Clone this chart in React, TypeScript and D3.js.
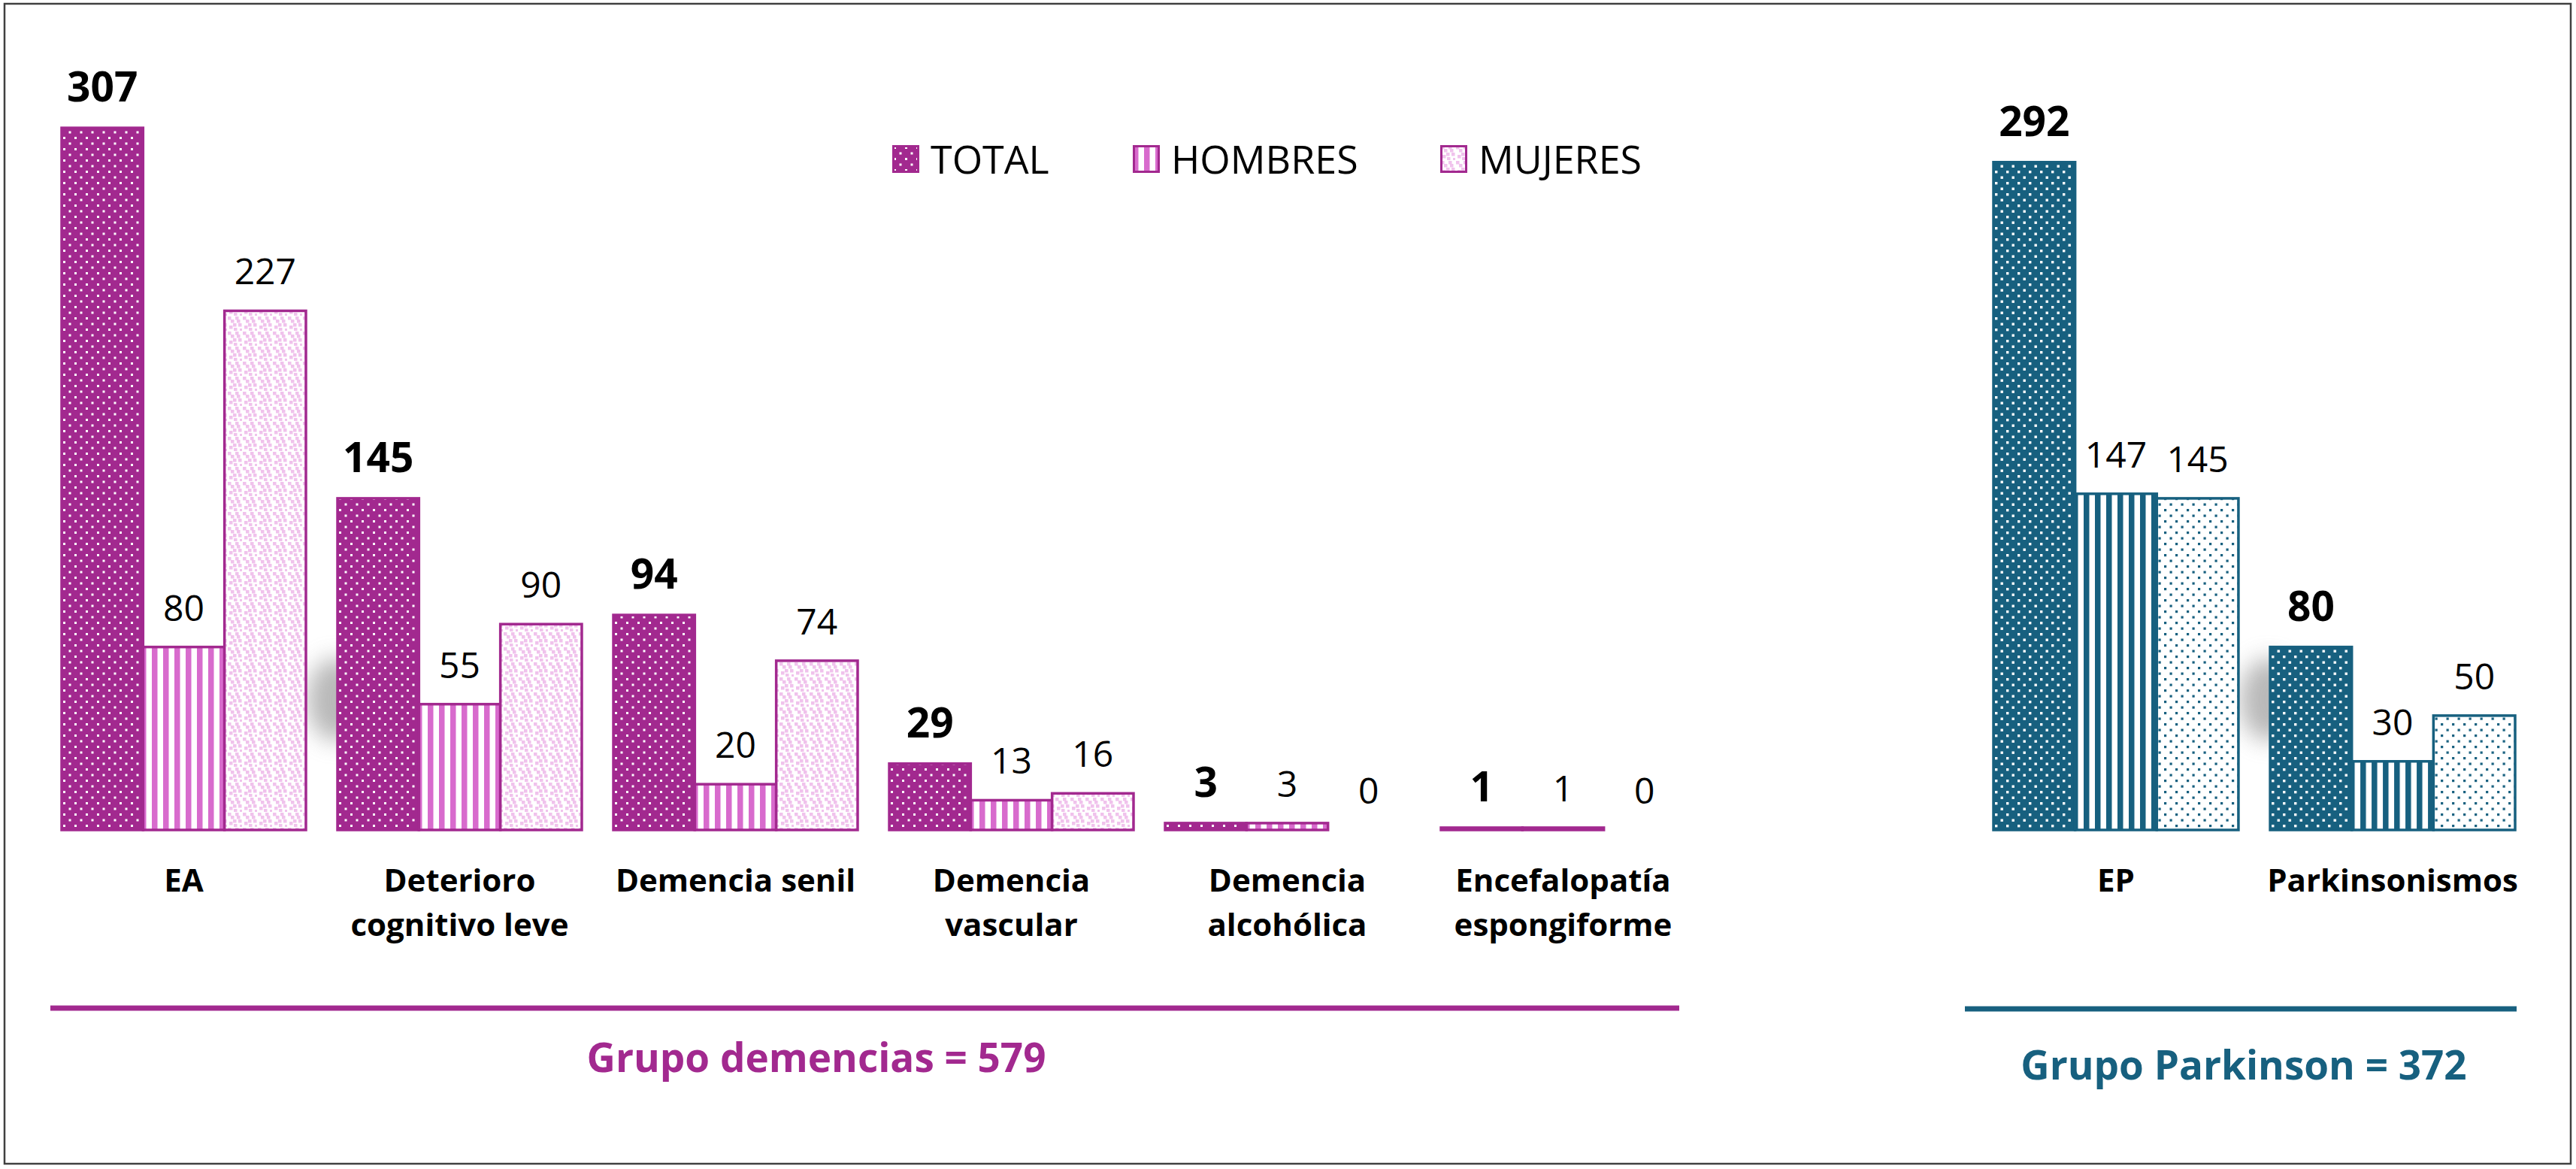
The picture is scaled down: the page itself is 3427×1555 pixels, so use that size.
import React from 'react'
import * as d3 from 'd3'

const W = 3427
const H = 1555
const BASE_Y = 1104
const FONT = "'Open Sans', 'Noto Sans', sans-serif"

const PURPLE = '#A2298F'
const PINK = '#D86BCD'
const LIGHT_PINK = '#F0C2EC'
const BLUE = '#17607F'

// Dementia group
const DEM_CATEGORIES = [
  'EA',
  'Deterioro\ncognitivo leve',
  'Demencia senil',
  'Demencia\nvascular',
  'Demencia\nalcohólica',
  'Encefalopatía\nespongiforme',
]
const DEM_TOTAL = [307, 145, 94, 29, 3, 1]
const DEM_HOMBRES = [80, 55, 20, 13, 3, 1]
const DEM_MUJERES = [227, 90, 74, 16, 0, 0]

// Parkinson group
const PARK_CATEGORIES = ['EP', 'Parkinsonismos']
const PARK_TOTAL = [292, 80]
const PARK_HOMBRES = [147, 30]
const PARK_MUJERES = [145, 50]

const SERIES = ['TOTAL', 'HOMBRES', 'MUJERES']
const LEGEND_X = [1187, 1507, 1916]

// categories whose total bar throws a soft shadow into the gap on its left
const SHADOWED = ['Deterioro\ncognitivo leve', 'Parkinsonismos']
const SHADOW_LEVEL = 57

const y = d3.scaleLinear().domain([0, 300]).range([BASE_Y, BASE_Y - 300 * 3.042])

const xDem = d3.scaleBand<string>().domain(DEM_CATEGORIES).range([82, 2242]).paddingInner(0.1145)
const xPark = d3.scaleBand<string>().domain(PARK_CATEGORIES).range([2652, 3346]).paddingInner(0.1145)

type Theme = 'purple' | 'blue'

function Patterns() {
  const dots = (id: string, bg: string, fg: string, size = 3) => (
    <pattern id={id} width={15} height={15} patternUnits="userSpaceOnUse">
      <rect width={15} height={15} fill={bg} />
      <rect x={2} y={2} width={size} height={size} fill={fg} />
      <rect x={9.5} y={9.5} width={size} height={size} fill={fg} />
    </pattern>
  )
  const stripes = (id: string, c: string) => (
    <pattern id={id} width={15} height={15} patternUnits="userSpaceOnUse">
      <rect width={15} height={15} fill="#fff" />
      <rect x={0} width={7.5} height={15} fill={c} />
    </pattern>
  )
  return (
    <defs>
      {dots('total-purple', PURPLE, '#fff')}
      {dots('total-blue', BLUE, '#fff', 3.4)}
      {dots('mujeres-blue', '#fff', BLUE, 3.2)}
      {stripes('hombres-purple', PINK)}
      {stripes('hombres-blue', BLUE)}
      {/* scattered confetti squares */}
      <pattern id="mujeres-purple" width={20} height={20} patternUnits="userSpaceOnUse">
        <rect width={20} height={20} fill="#fff" />
        {[[1, 1], [5, 5], [11, 1], [15, 10], [3, 13], [9, 16], [13, 5], [8, 10], [17, 17]].map(([px, py], i) => (
          <rect key={i} x={px} y={py} width={4.5} height={4.5} fill={LIGHT_PINK} />
        ))}
      </pattern>
      <filter id="soft" x="-100%" y="-100%" width="300%" height="300%">
        <feGaussianBlur stdDeviation={15} />
      </filter>
    </defs>
  )
}

function BarGroup({
  categories, total, hombres, mujeres, x, theme,
}: {
  categories: string[]; total: number[]; hombres: number[]; mujeres: number[]
  x: d3.ScaleBand<string>; theme: Theme
}) {
  const color = theme === 'purple' ? PURPLE : BLUE
  const inner = d3.scaleBand<string>().domain(SERIES).range([0, x.bandwidth()])
  const values = [total, hombres, mujeres]
  const fills = [`total-${theme}`, `hombres-${theme}`, `mujeres-${theme}`]

  return (
    <g>
      {/* soft shadows behind bars */}
      {categories.filter(c => SHADOWED.includes(c)).map(c => (
        <ellipse
          key={`sh-${c}`}
          cx={x(c)! - 2}
          cy={y(SHADOW_LEVEL)}
          rx={38}
          ry={55}
          fill="#8a8a8a"
          opacity={0.6}
          filter="url(#soft)"
        />
      ))}

      {categories.map((c, ci) => (
        <g key={c} transform={`translate(${x(c)},0)`}>
          {SERIES.map((s, si) => {
            const v = values[si][ci]
            const bx = inner(s)!
            const bw = inner.bandwidth()
            return (
              <g key={s}>
                {v > 0 && (
                  <rect
                    x={bx}
                    y={y(v)}
                    width={bw}
                    height={BASE_Y - y(v)}
                    fill={`url(#${fills[si]})`}
                    stroke={color}
                    strokeWidth={3.5}
                  />
                )}
                <text
                  x={bx + bw / 2}
                  y={y(v) - 35}
                  textAnchor="middle"
                  fontFamily={FONT}
                  fontSize={si === 0 ? 55 : 48}
                  fontWeight={si === 0 ? 700 : 400}
                  fill="#000"
                >
                  {v}
                </text>
              </g>
            )
          })}
          <text
            x={x.bandwidth() / 2}
            y={1186}
            textAnchor="middle"
            fontFamily={FONT}
            fontSize={42}
            fontWeight={700}
            fill="#000"
          >
            {c.split('\n').map((line, li) => (
              <tspan key={li} x={x.bandwidth() / 2} dy={li === 0 ? 0 : 59}>{line}</tspan>
            ))}
          </text>
        </g>
      ))}
    </g>
  )
}

export default function App() {
  const demRange = xDem.range()
  const parkRange = xPark.range()

  return (
    <div style={{ position: 'absolute', left: 0, top: 0 }}>
      <svg width={W} height={H} style={{ display: 'block', background: '#fff' }}>
        <Patterns />
        <rect x={6} y={5} width={3414} height={1543} fill="#fff" stroke="#404040" strokeWidth={2.5} />

        <BarGroup
          categories={DEM_CATEGORIES}
          total={DEM_TOTAL}
          hombres={DEM_HOMBRES}
          mujeres={DEM_MUJERES}
          x={xDem}
          theme="purple"
        />
        <BarGroup
          categories={PARK_CATEGORIES}
          total={PARK_TOTAL}
          hombres={PARK_HOMBRES}
          mujeres={PARK_MUJERES}
          x={xPark}
          theme="blue"
        />

        {/* legend */}
        {SERIES.map((s, i) => (
          <g key={s} transform={`translate(${LEGEND_X[i]},193)`}>
            <rect
              x={1.5}
              y={1.5}
              width={33}
              height={34}
              fill={`url(#${['total', 'hombres', 'mujeres'][i]}-purple)`}
              stroke={PURPLE}
              strokeWidth={3}
            />
            <text x={51} y={38} fontFamily={FONT} fontSize={52} fill="#000">{s}</text>
          </g>
        ))}

        {/* group brackets */}
        <line x1={demRange[0] - 15} x2={demRange[1] - 8} y1={1341} y2={1341} stroke={PURPLE} strokeWidth={7} />
        <text
          x={1086}
          y={1426}
          textAnchor="middle"
          fontFamily={FONT}
          fontSize={53}
          fontWeight={700}
          fill={PURPLE}
        >
          {`Grupo demencias = ${d3.sum(DEM_TOTAL)}`}
        </text>

        <line x1={parkRange[0] - 38} x2={parkRange[1] + 2} y1={1342} y2={1342} stroke={BLUE} strokeWidth={7} />
        <text
          x={2985}
          y={1436}
          textAnchor="middle"
          fontFamily={FONT}
          fontSize={53}
          fontWeight={700}
          fill={BLUE}
        >
          {`Grupo Parkinson = ${d3.sum(PARK_TOTAL)}`}
        </text>
      </svg>
    </div>
  )
}
